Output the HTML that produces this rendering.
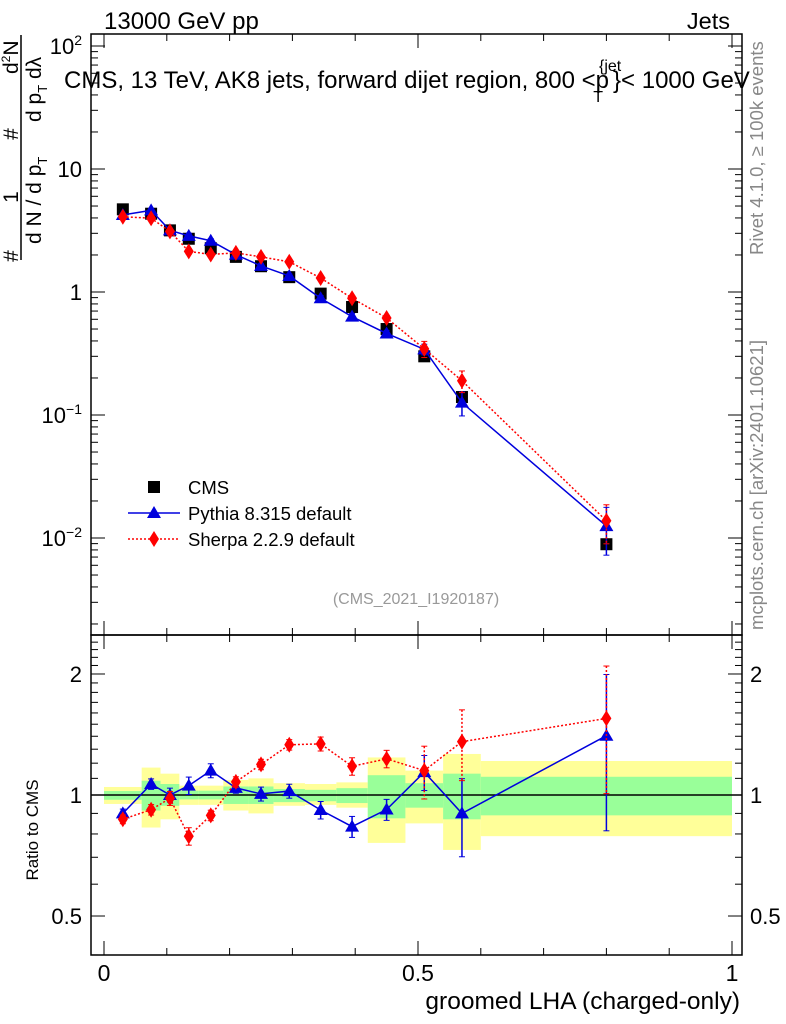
<!DOCTYPE html>
<html><head><meta charset="utf-8">
<style>
body{margin:0;background:#fff;width:786px;height:1024px;overflow:hidden}
svg{display:block;font-family:"Liberation Sans",sans-serif}
</style></head>
<body>
<svg id="chart" width="786" height="1024" viewBox="0 0 786 1024">
<text x="104" y="29" font-size="24">13000 GeV pp</text>
<text x="730" y="29" font-size="23.5" text-anchor="end">Jets</text>
<text x="64" y="88" font-size="24">CMS, 13 TeV, AK8 jets, forward dijet region, 800 &lt;p<tspan font-size="16" dy="-17" dx="-10">{jet</tspan><tspan font-size="16" dy="31" dx="-28">T</tspan><tspan dy="-14" dx="10">}&lt; 1000 GeV</tspan></text>
<text x="416" y="604" font-size="16" fill="#999" text-anchor="middle">(CMS_2021_I1920187)</text>
<text transform="translate(763,255) rotate(-90)" font-size="18.5" fill="#888">Rivet 4.1.0, ≥ 100k events</text>
<text transform="translate(763,630) rotate(-90)" font-size="18.5" fill="#888">mcplots.cern.ch [arXiv:2401.10621]</text>
<text x="740" y="1009" font-size="24.5" text-anchor="end">groomed LHA (charged-only)</text>
<text transform="translate(38,830) rotate(-90)" font-size="17" text-anchor="middle">Ratio to CMS</text>
<g font-size="21">
<line x1="21" y1="260" x2="21" y2="35" stroke="#000" stroke-width="1.5"/>
<text transform="translate(18,256) rotate(-90)" text-anchor="middle">#</text>
<text transform="translate(18,197) rotate(-90)" text-anchor="middle">1</text>
<text transform="translate(18,134) rotate(-90)" text-anchor="middle">#</text>
<text transform="translate(18,74) rotate(-90)">d<tspan font-size="12" dy="-8">2</tspan><tspan dy="8">N</tspan></text>
<text transform="translate(41,244) rotate(-90)">d N / d p<tspan font-size="13" dy="6">T</tspan></text>
<text transform="translate(41,122) rotate(-90)">d p<tspan font-size="13" dy="6">T</tspan><tspan dy="-6"> d</tspan>λ</text>
</g>
<g id="g" ></g>
</svg>
<script>
const edges=[0,0.06,0.09,0.12,0.15,0.19,0.23,0.27,0.32,0.37,0.42,0.48,0.54,0.6,1.0];
const xs=[0.03,0.075,0.105,0.135,0.17,0.21,0.25,0.295,0.345,0.395,0.45,0.51,0.57,0.8];
const cms=[4.7,4.33,3.17,2.71,2.27,1.93,1.62,1.32,0.97,0.755,0.50,0.30,0.14,0.0089];
const pythia=[4.23,4.61,3.17,2.86,2.61,2.01,1.63,1.35,0.89,0.63,0.46,0.342,0.126,0.0125];
const sherpa=[4.09,3.98,3.11,2.14,2.02,2.08,1.93,1.76,1.30,0.89,0.615,0.345,0.19,0.0138];
const pythiaErr=[0.025,0.03,0.04,0.05,0.04,0.03,0.04,0.04,0.05,0.06,0.06,0.1,0.22,0.42];
const sherpaErr=[0.025,0.03,0.04,0.05,0.03,0.03,0.03,0.03,0.04,0.05,0.05,0.15,0.2,0.35];
const yelHi=[1.047,1.17,1.13,1.055,1.055,1.09,1.10,1.07,1.065,1.075,1.24,1.15,1.265,1.215];
const yelLo=[0.95,0.83,0.87,0.945,0.945,0.915,0.90,0.94,0.945,0.93,0.76,0.85,0.73,0.79];
const grnHi=[1.023,1.085,1.065,1.025,1.025,1.05,1.05,1.035,1.03,1.04,1.12,1.07,1.13,1.11];
const grnLo=[0.973,0.915,0.94,0.975,0.975,0.95,0.95,0.96,0.965,0.955,0.875,0.93,0.87,0.89];
const mainTicks=[[0.01,'10<tspan font-size="14" dy="-9">−2</tspan>'],[0.1,'10<tspan font-size="14" dy="-9">−1</tspan>'],[1,'1'],[10,'10'],[100,'10<tspan font-size="14" dy="-9">2</tspan>']];
const ratioTicks=[0.5,1,2];
const xTicks=[0,0.5,1];

const L=91,R=742,T=34,M=635,B=955;
const X=v=>104+v*628;
const Y=v=>292-123*Math.log10(v);
const YR=v=>795-402*Math.log10(v);
const g=document.getElementById('g');
const NS='http://www.w3.org/2000/svg';
function el(t,a,p){const e=document.createElementNS(NS,t);for(const k in a)e.setAttribute(k,a[k]);(p||g).appendChild(e);return e;}

for(let i=0;i<xs.length;i++){
 const b=el('rect',{x:X(edges[i]),y:YR(yelHi[i]),width:X(edges[i+1])-X(edges[i]),height:YR(yelLo[i])-YR(yelHi[i]),fill:'#ffff99'});
 
 
 const c=el('rect',{x:X(edges[i]),y:YR(grnHi[i]),width:X(edges[i+1])-X(edges[i]),height:YR(grnLo[i])-YR(grnHi[i]),fill:'#99ff99'});
 
 
}
const ref=el('line',{x1:L,x2:R,y1:YR(1),y2:YR(1),stroke:'#000','stroke-width':1.5});



for(const [y1,y2] of [[T,M],[M,B]]){
 const f=el('rect',{x:L,y:y1,width:R-L,height:y2-y1,fill:'none',stroke:'#000','stroke-width':1.5});
 
 
}
for(let v=0;v<=1.0001;v+=0.1){
 const big=Math.abs(v*2-Math.round(v*2))<1e-6;
 const len=big?14:7;
 for(const [y1,d] of [[T,1],[M,-1],[M,1],[B,-1]])el('line',{x1:X(v),x2:X(v),y1:y1,y2:y1+d*len,stroke:'#000'});
}
for(const v of xTicks){
 const t=el('text',{x:X(v),y:981,'font-size':23,'text-anchor':'middle'});t.textContent=v;
 
 
}
for(let e=-3;e<=2;e++)for(let m=1;m<10;m++){
 const v=m*Math.pow(10,e),y=Y(v);if(y<T||y>M)continue;
 const len=m==1?14:7;
 el('line',{x1:L,x2:L+len,y1:y,y2:y,stroke:'#000'});el('line',{x1:R,x2:R-len,y1:y,y2:y,stroke:'#000'});
}
for(const [v,s] of mainTicks){
 const t=el('text',{x:82,y:Y(v)+8,'font-size':22,'text-anchor':'end'});t.innerHTML=s;
 
 
}
for(let v=0.4;v<=2.5;v+=0.1){
 const y=YR(v);if(y<M||y>B)continue;
 const big=[0.5,1,2].some(q=>Math.abs(q-v)<1e-6);const len=big?14:7;
 el('line',{x1:L,x2:L+len,y1:y,y2:y,stroke:'#000'});el('line',{x1:R,x2:R-len,y1:y,y2:y,stroke:'#000'});
}
for(const v of ratioTicks){
 for(const [x,a] of [[82,'end'],[750,'start']]){
  const t=el('text',{x:x,y:YR(v)+8,'font-size':22,'text-anchor':a});t.textContent=v;
  
  
 }
}
function marker(type,x,y,col){
 if(type=='sq')return el('rect',{x:x-6,y:y-6,width:12,height:12,fill:'#000'});
 if(type=='tri')return el('polygon',{points:`${x},${y-7} ${x+7},${y+5} ${x-7},${y+5}`,fill:col});
 return el('polygon',{points:`${x},${y-8} ${x+5},${y} ${x},${y+8} ${x-5},${y}`,fill:col});
}
function series(vals,errs,col,dash,type,name,fy,ratio){
 const pts=vals.map((v,i)=>[X(xs[i]),fy(ratio?v/cms[i]:v)]);
 const pl=el('polyline',{points:pts.map(p=>p.join(',')).join(' '),fill:'none',stroke:col,'stroke-width':1.5,'stroke-dasharray':dash});
 
 
 vals.forEach((v,i)=>{
  const c=ratio?v/cms[i]:v;
  const y1=fy(c*(1+errs[i])),y2=fy(c*(1-errs[i])),x=X(xs[i]);
  el('line',{x1:x,x2:x,y1:y1,y2:y2,stroke:col,'stroke-width':1.5,'stroke-dasharray':dash});
  el('line',{x1:x-3,x2:x+3,y1:y1,y2:y1,stroke:col});el('line',{x1:x-3,x2:x+3,y1:y2,y2:y2,stroke:col});
  const m=marker(type,x,fy(c),col);
  
  
 });
}
cms.forEach((v,i)=>{
 const m=marker('sq',X(xs[i]),Y(v));
 
 
});
series(pythia,pythiaErr,'#0000dd','','tri','pythia',Y,false);
series(sherpa,sherpaErr,'#ff0000','2,2','dia','sherpa',Y,false);
series(pythia,pythiaErr,'#0000dd','','tri','pythia-ratio',YR,true);
series(sherpa,sherpaErr,'#ff0000','2,2','dia','sherpa-ratio',YR,true);

const lg=[['CMS','sq','#000',''],['Pythia 8.315 default','tri','#0000dd',''],['Sherpa 2.2.9 default','dia','#ff0000','2,2']];
lg.forEach((d,i)=>{
 const y=487+26*i;
 if(d[1]!='sq'){el('line',{x1:128,x2:180,y1:y,y2:y,stroke:d[2],'stroke-width':1.5,'stroke-dasharray':d[3]});}
 const m=marker(d[1],154,y,d[2]);
 
 
 const t=el('text',{x:188,y:y+7,'font-size':18.5});t.textContent=d[0];
 
 
});
</script>
</body></html>
